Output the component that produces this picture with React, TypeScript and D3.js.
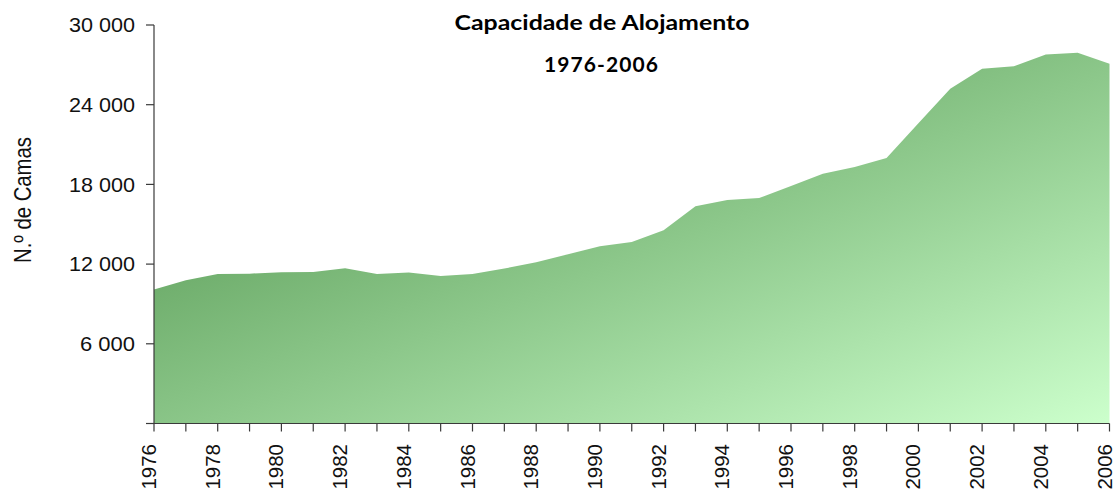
import React from "react";
import * as d3 from "d3";

const years: number[] = [
  1976, 1977, 1978, 1979, 1980, 1981, 1982, 1983, 1984, 1985, 1986, 1987, 1988,
  1989, 1990, 1991, 1992, 1993, 1994, 1995, 1996, 1997, 1998, 1999, 2000, 2001,
  2002, 2003, 2004, 2005, 2006,
];
const beds: number[] = [
  10090, 10790, 11260, 11280, 11390, 11410, 11690, 11260, 11370, 11110, 11260,
  11670, 12140, 12750, 13350, 13670, 14550, 16350, 16830, 16980, 17880, 18810,
  19310, 19990, 22600, 25200, 26710, 26900, 27780, 27910, 27080,
];
const yTicks: number[] = [0, 6000, 12000, 18000, 24000, 30000];
const yTickLabels: string[] = ["", "6 000", "12 000", "18 000", "24 000", "30 000"];
const xLabelYears: number[] = years.filter((y) => y % 2 === 0);
const titleLine1 = "Capacidade de Alojamento";
const titleLine2 = "1976-2006";
const yAxisTitle = "N.º de Camas";

const W = 1115;
const H = 492;
const left = 154;
const right = 1109.5;
const top = 25;
const bottom = 423.5;

export default function App() {
  const x = d3.scaleLinear().domain([1976, 2006]).range([left, right]);
  const y = d3.scaleLinear().domain([0, 30000]).range([bottom, top]);
  const data = years.map((yr, i) => ({ yr, v: beds[i] }));
  const area = d3
    .area<{ yr: number; v: number }>()
    .x((d) => x(d.yr))
    .y0(y(0))
    .y1((d) => y(d.v))(data) as string;

  const axisColor = "#3a3a3a";
  const font = "'Liberation Sans', Arial, Helvetica, sans-serif";

  return (
    <svg
      width={W}
      height={H}
      style={{ position: "absolute", left: 0, top: 0, background: "#fff" }}
    >
      <defs>
        <linearGradient id="g" x1="0" y1="0" x2="1" y2="1">
          <stop offset="0" stopColor="#468a42" />
          <stop offset="1" stopColor="#ccffcc" />
        </linearGradient>
      </defs>
      <path d={area} fill="url(#g)" stroke="none" />

      {/* y axis */}
      <line x1={left} x2={left} y1={y(30000)} y2={bottom} stroke={axisColor} strokeWidth={1.2} />
      {yTicks.map((t, i) => (
        <g key={t}>
          <line x1={left - 8} x2={left} y1={y(t)} y2={y(t)} stroke={axisColor} strokeWidth={1.2} />
          {yTickLabels[i] && (
            <text
              x={135}
              y={y(t)}
              dy="0.36em"
              textAnchor="end"
              fontFamily={font}
              fontSize={20}
              fill="#111"
              textLength={yTickLabels[i].length * 11}
              lengthAdjust="spacingAndGlyphs"
            >
              {yTickLabels[i]}
            </text>
          )}
        </g>
      ))}

      {/* x axis */}
      <line x1={left - 8} x2={right} y1={bottom} y2={bottom} stroke={axisColor} strokeWidth={1.2} />
      {years.map((yr) => (
        <line key={yr} x1={x(yr)} x2={x(yr)} y1={bottom} y2={bottom + 8} stroke={axisColor} strokeWidth={1.2} />
      ))}
      {xLabelYears.map((yr) => (
        <text
          key={yr}
          transform={`translate(${x(yr) + 2},${444}) rotate(-90)`}
          textAnchor="end"
          fontFamily={font}
          fontSize={20.5}
          fill="#111"
        >
          {yr}
        </text>
      ))}

      {/* y axis title */}
      <text
        transform={`translate(31,200) rotate(-90)`}
        textAnchor="middle"
        fontFamily={font}
        fontSize={24}
        fill="#111"
        textLength={126}
        lengthAdjust="spacingAndGlyphs"
      >
        {yAxisTitle}
      </text>

      {/* titles */}
      <text
        x={602}
        y={30}
        textAnchor="middle"
        fontFamily="Lato, 'Open Sans', sans-serif"
        fontWeight={700}
        fontSize={21}
        fill="#000"
        textLength={295}
        lengthAdjust="spacingAndGlyphs"
      >
        {titleLine1}
      </text>
      <text
        x={601}
        y={72}
        textAnchor="middle"
        fontFamily="Lato, 'Open Sans', sans-serif"
        fontWeight={700}
        fontSize={21}
        fill="#000"
        textLength={114}
        lengthAdjust="spacing"
      >
        {titleLine2}
      </text>
    </svg>
  );
}
